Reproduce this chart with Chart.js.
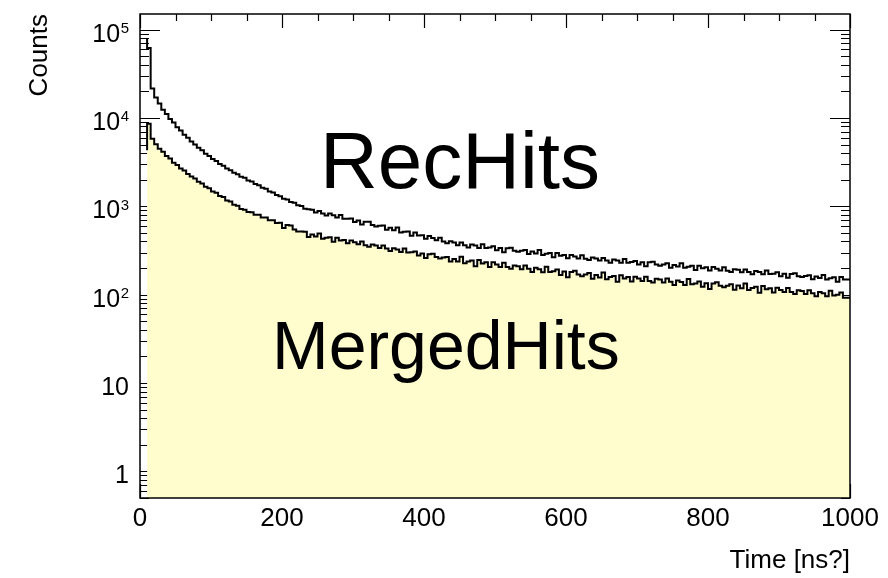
<!DOCTYPE html>
<html><head><meta charset="utf-8">
<script src="https://cdn.jsdelivr.net/npm/chart.js@4.4.0/dist/chart.umd.min.js"></script>
<style>html,body{margin:0;padding:0;background:#fff;}#wrap{width:888px;height:578px;}</style>
</head><body><div id="wrap"><canvas id="c" width="888" height="578"></canvas></div>
<script>
const X_MIN = 0, X_MAX = 1000, BIN_WIDTH = 5;
const Y_MIN = 0.5, Y_MAX = 1.5e5;

const recHits = [
0,0,80000,62000,21500,17000,14600,12400,11050,9750,
8850,7850,7200,6450,5980,5400,5020,4600,4300,3940,
3720,3430,3250,3010,2870,2670,2560,2390,2310,2160,
2100,1960,1905,1790,1730,1620,1575,1470,1430,1340,
1300,1220,1195,1120,1095,1025,1005,940,925,911,
848,882,830,787,827,794,746,798,722,722,
728,664,690,623,668,667,616,591,602,607,
542,570,537,574,504,514,518,463,506,467,
471,430,461,438,412,441,399,383,402,390,
363,389,362,341,370,360,338,373,338,342,
352,318,338,302,335,340,315,306,315,321,
288,308,293,320,281,291,297,265,296,276,
282,259,282,271,257,279,255,247,263,257,
243,260,244,229,250,243,229,254,230,234,
241,219,233,209,232,236,220,213,220,226,
202,217,208,227,201,207,212,190,213,199,
204,188,205,197,188,204,187,181,194,191,
179,193,180,170,185,180,170,188,171,173,
179,162,172,155,171,175,162,158,163,166,
149,161,154,167,148,153,157,140,158,148
];

const mergedHits = [
0,0,4300,8600,5800,5050,4480,4130,3720,3470,
3120,2940,2680,2540,2320,2170,2060,1890,1810,1660,
1600,1470,1420,1310,1270,1165,1130,1040,1015,935,
915,862,855,800,800,745,748,695,695,648,
650,568,613,608,547,517,519,516,449,479,
454,491,430,441,447,397,441,410,415,381,
410,392,371,399,363,349,369,360,337,359,
333,311,336,324,303,333,300,301,308,277,
293,260,286,290,266,257,264,267,238,254,
238,269,226,237,244,209,246,225,232,206,
233,220,206,230,205,196,214,210,194,214,
196,180,202,194,179,207,180,184,193,167,
183,157,181,187,169,162,169,176,151,167,
156,178,149,158,163,140,166,152,158,141,
160,152,143,160,143,137,151,148,137,152,
140,129,145,139,129,150,131,134,141,123,
135,116,134,138,126,121,126,131,114,127,
118,134,113,119,123,105,125,115,118,106,
120,113,107,119,107,102,112,110,102,112,
104,96,107,104,96,111,98,100,106,92
];

const xTickValues = [0, 200, 400, 600, 800, 1000];
const yTickValues = [1, 10, 100, 1000, 10000, 100000];
const yTickBase = ['1', '10', '10', '10', '10', '10'];
const yTickExp = ['', '', '2', '3', '4', '5'];
const xTitle = 'Time [ns?]';
const yTitle = 'Counts';
const seriesNames = ['RecHits', 'MergedHits'];

const FONT = "'Liberation Sans', Arial, Helvetica, sans-serif";

function toSteps(vals) {
  const pts = vals.map((v, i) => ({x: X_MIN + i * BIN_WIDTH, y: v}));
  pts.push({x: X_MAX, y: vals[vals.length - 1]});
  return pts;
}

const rootAxes = {
  id: 'rootAxes',
  beforeDatasetsDraw(chart) {
    const {ctx, chartArea: a, scales: {x, y}} = chart;
    ctx.save();
    ctx.strokeStyle = '#000';
    ctx.lineWidth = 1.2;
    ctx.beginPath();
    for (let e = -1; e <= 5; e++) {
      for (let m = 1; m <= 9; m++) {
        const v = m * Math.pow(10, e);
        if (v < Y_MIN || v > Y_MAX) continue;
        const py = Math.round(y.getPixelForValue(v)) + 0.5;
        const len = m === 1 ? 20 : 9;
        ctx.moveTo(a.left, py); ctx.lineTo(a.left + len, py);
        ctx.moveTo(a.right, py); ctx.lineTo(a.right - len, py);
      }
    }
    for (let v = X_MIN; v <= X_MAX; v += 50) {
      const px = Math.round(x.getPixelForValue(v)) + 0.5;
      const len = (v % 200 === 0) ? 14 : 7;
      ctx.moveTo(px, a.top); ctx.lineTo(px, a.top + len);
      ctx.moveTo(px, a.bottom); ctx.lineTo(px, a.bottom - len);
    }
    ctx.stroke();
    ctx.fillStyle = '#000';
    ctx.textBaseline = 'alphabetic';
    ctx.textAlign = 'right';
    const rightEdge = a.left - 11;
    yTickValues.forEach((v, i) => {
      const py = y.getPixelForValue(v);
      let xr = rightEdge;
      if (yTickExp[i]) {
        ctx.font = '15px ' + FONT;
        ctx.fillText(yTickExp[i], xr, py + 3.5);
        xr -= ctx.measureText(yTickExp[i]).width + 0.5;
      }
      ctx.font = '25px ' + FONT;
      ctx.fillText(yTickBase[i], xr, py + 12);
    });
    ctx.restore();
  },
  afterDatasetsDraw(chart) {
    const {ctx, chartArea: a} = chart;
    ctx.save();
    ctx.strokeStyle = '#000';
    ctx.lineWidth = 1.5;
    ctx.strokeRect(a.left, a.top, a.right - a.left, a.bottom - a.top);
    ctx.fillStyle = '#000';
    ctx.textBaseline = 'alphabetic';
    ctx.textAlign = 'left';
    ctx.font = '80px ' + FONT;
    ctx.fillText(seriesNames[0], 320, 188);
    ctx.font = '68px ' + FONT;
    ctx.fillText(seriesNames[1], 272, 369);
    ctx.restore();
  }
};

new Chart(document.getElementById('c'), {
  type: 'line',
  data: {
    datasets: [
      {label: seriesNames[0], data: toSteps(recHits), stepped: 'after', borderColor: '#000', borderWidth: 2, pointRadius: 0, fill: false},
      {label: seriesNames[1], data: toSteps(mergedHits), stepped: 'after', borderColor: '#000', borderWidth: 2, pointRadius: 0, fill: 'start', backgroundColor: '#FFFDCD'}
    ]
  },
  options: {
    responsive: false,
    devicePixelRatio: 1,
    animation: false,
    layout: {padding: {top: 14, right: 38, left: 0, bottom: 0}},
    plugins: {legend: {display: false}, tooltip: {enabled: false}},
    scales: {
      x: {
        type: 'linear', min: X_MIN, max: X_MAX,
        grid: {display: false, drawTicks: false},
        border: {display: false},
        afterBuildTicks: s => { s.ticks = xTickValues.map(v => ({value: v})); },
        afterFit: s => { s.height = 80; },
        ticks: {color: '#000', font: {family: FONT, size: 26}, padding: 5, maxRotation: 0, autoSkip: false,
                callback: v => String(v)},
        title: {display: true, text: xTitle, align: 'end', color: '#000', font: {family: FONT, size: 26}, padding: {top: 0, bottom: 2}}
      },
      y: {
        type: 'logarithmic', min: Y_MIN, max: Y_MAX,
        grid: {display: false, drawTicks: false},
        border: {display: false},
        afterBuildTicks: s => { s.ticks = yTickValues.map(v => ({value: v})); },
        afterFit: s => { s.width = 140; },
        ticks: {display: false},
        title: {display: true, text: yTitle, align: 'end', color: '#000', font: {family: FONT, size: 26}, padding: {top: 24, bottom: 0}}
      }
    }
  },
  plugins: [rootAxes]
});
</script>
</body></html>
